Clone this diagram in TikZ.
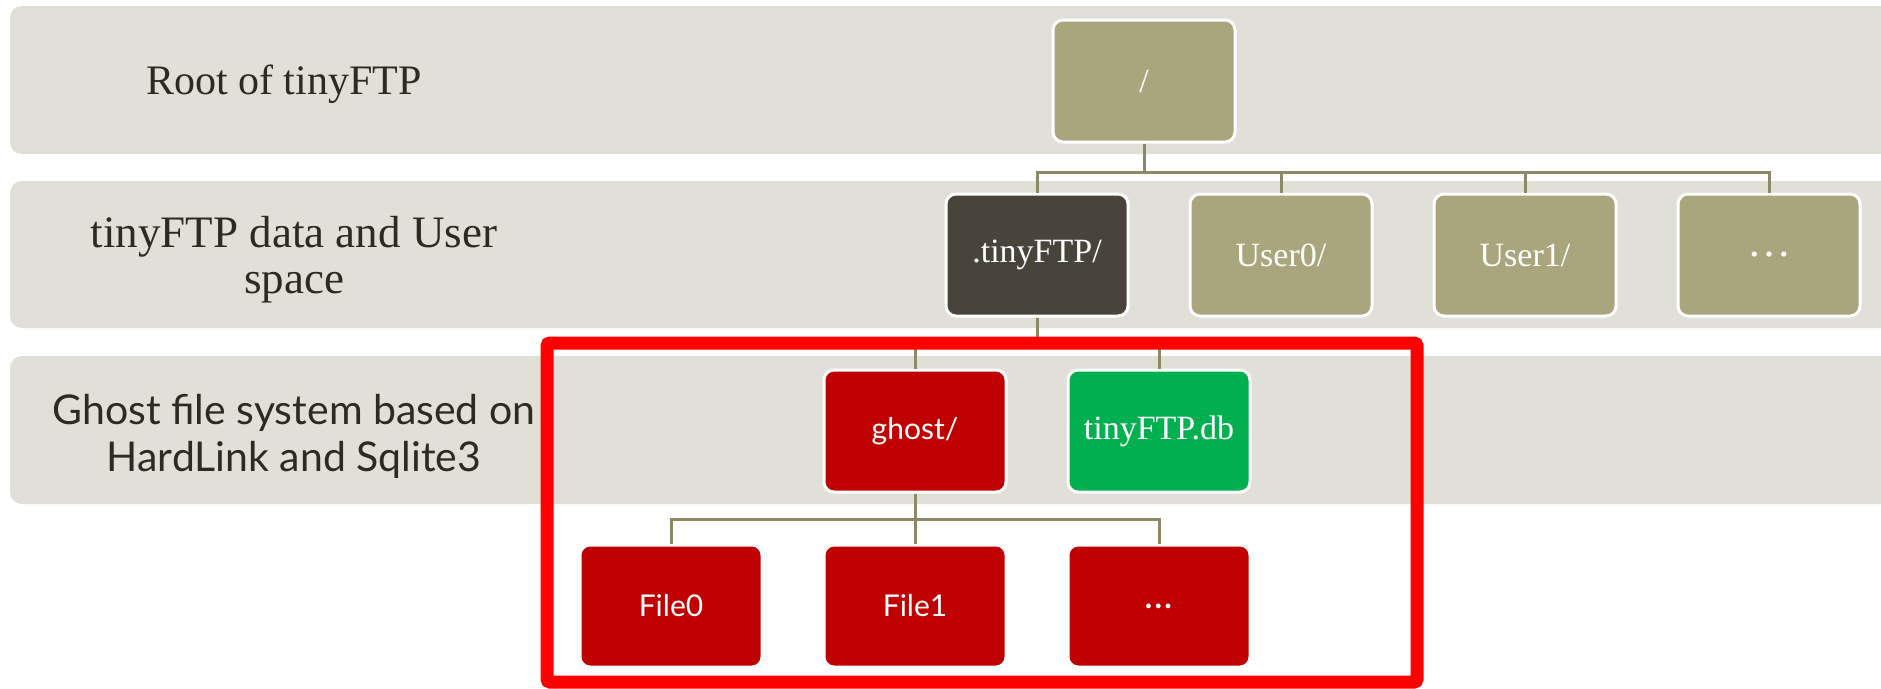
\documentclass[tikz,border=0pt]{standalone}
\usepackage{fontspec}
\setmainfont{Liberation Serif}
\setsansfont{Lato}
\usepackage{tikz}
\definecolor{bandgray}{HTML}{E0E0D8}
\definecolor{khaki}{HTML}{A9A67E}
\definecolor{darkbrown}{HTML}{48443C}
\definecolor{ghostred}{HTML}{C00000}
\definecolor{dbgreen}{HTML}{00B050}
\definecolor{linkolive}{HTML}{8C8A66}
\definecolor{labelink}{HTML}{2E2A20}
\tikzstyle{band} = [fill=bandgray, rounded corners=12pt]
\tikzstyle{layertext} = [text=labelink, align=center]
\tikzstyle{dirbox} = [rectangle, rounded corners=10pt, draw=white, line width=3pt, fill=khaki, text=white, minimum width=182pt, minimum height=122pt, font=\fontsize{34}{36}\selectfont]
\tikzstyle{confbox} = [dirbox, fill=darkbrown]
\tikzstyle{ghostbox} = [dirbox, fill=ghostred, font=\sffamily\fontsize{30}{34}\selectfont]
\tikzstyle{dbbox} = [dirbox, fill=dbgreen]
\tikzstyle{link} = [draw=linkolive, line width=3pt]
\tikzstyle{redframe} = [draw=red, line width=13pt, rounded corners=3pt]

\begin{document}
\begin{tikzpicture}[node distance=244pt, x=1pt, y=1pt]
  \useasboundingbox (0,0) rectangle (1881,-688);
  % layers
  \fill[band] (10,-6) rectangle (1910,-154);
  \fill[band] (10,-181) rectangle (1910,-328);
  \fill[band] (10,-356) rectangle (1910,-504);
  \node[layertext, font=\fontsize{42}{46}\selectfont] (rootlabel) at (284,-84) {Root of tinyFTP};
  \node[layertext, font=\fontsize{45}{46}\selectfont] (userlabel) at (294,-260) {tinyFTP data and User\\space};
  \node[layertext, font=\sffamily\fontsize{41}{47}\selectfont] (ghostlabel) at (294,-436) {Ghost file system based on\\HardLink and Sqlite3};

  % tree
  \node[dirbox] (root) at (1144,-81) {/};
  \node[confbox] (conf) at (1037,-255) {.tinyFTP/};
  \node[dirbox, right of=conf] (user0) {User0/};
  \node[dirbox, right of=user0] (user1) {User1/};
  \node[dirbox, right of=user1, font=\fontsize{44}{46}\selectfont] (usermore) {\ldots};
  \node[ghostbox] (ghost) at (915,-431) {ghost/};
  \node[dbbox, right of=ghost] (db) {tinyFTP.db};
  \node[ghostbox, below of=ghost, node distance=175pt] (file1) {File1};
  \node[ghostbox, left of=file1] (file0) {File0};
  \node[ghostbox, right of=file1, font=\sffamily\fontsize{38}{40}\selectfont] (filemore) {\ldots};

  \path[link] (root.south) -- ++(0,-29) -| (conf.north);
  \path[link] (root.south) -- ++(0,-29) -| (user0.north);
  \path[link] (root.south) -- ++(0,-29) -| (user1.north);
  \path[link] (root.south) -- ++(0,-29) -| (usermore.north);
  \path[link] (conf.south) -- ++(0,-25) -| (ghost.north);
  \path[link] (conf.south) -- ++(0,-25) -| (db.north);
  \path[link] (ghost.south) -- ++(0,-26) -| (file0.north);
  \path[link] (ghost.south) -- (file1.north);
  \path[link] (ghost.south) -- ++(0,-26) -| (filemore.north);

  % ghost part
  \draw[redframe] (547,-343) rectangle (1417,-682);
\end{tikzpicture}
\end{document}
